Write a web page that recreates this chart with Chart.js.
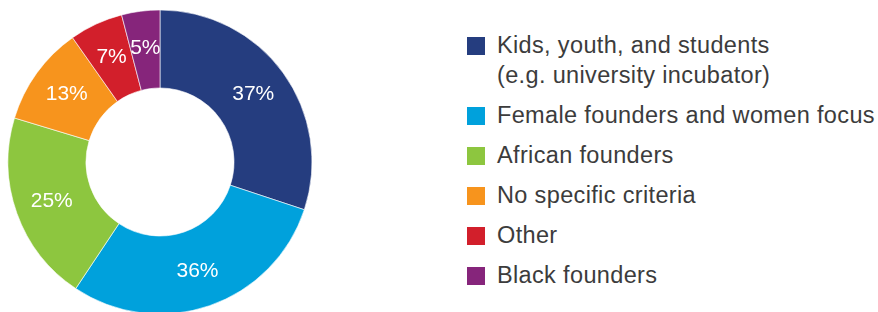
<!DOCTYPE html>
<html>
<head>
<meta charset="utf-8">
<script src="https://cdn.jsdelivr.net/npm/chart.js@4"></script>
<style>
  html, body { margin: 0; padding: 0; background: #fff; overflow: hidden; }
  body { width: 878px; height: 312px; position: relative; font-family: "Liberation Sans", Arial, sans-serif; }
  #wrap { position: absolute; left: 0; top: 0; width: 320px; height: 324px; }
  #legend { position: absolute; left: 467px; top: 30px; color: #3c3c3c; font-size: 23.5px; letter-spacing: 0.35px; white-space: nowrap; }
  .item { position: relative; padding-left: 30px; line-height: 30px; margin-bottom: 10px; }
  .box { position: absolute; left: 0; top: 7px; width: 18px; height: 18px; }
</style>
</head>
<body>
<div id="wrap"><canvas id="myChart" width="320" height="324"></canvas></div>
<div id="legend"></div>
<script>
var labels = [
    ['Kids, youth, and students', '(e.g. university incubator)'],
    ['Female founders and women focus'],
    ['African founders'],
    ['No specific criteria'],
    ['Other'],
    ['Black founders']
];
var values = [37, 36, 25, 13, 7, 5];
var colors = ['#253d7f', '#00a1dc', '#8dc63f', '#f7941d', '#d21f2b', '#86257b'];

// legend on the right
var legend = document.getElementById('legend');
labels.forEach(function (lines, i) {
    var item = document.createElement('div');
    item.className = 'item';
    var box = document.createElement('span');
    box.className = 'box';
    box.style.background = colors[i];
    item.appendChild(box);
    lines.forEach(function (t, j) {
        if (j > 0) item.appendChild(document.createElement('br'));
        item.appendChild(document.createTextNode(t));
    });
    legend.appendChild(item);
});

// percentage labels inside the slices
var sliceLabels = {
    id: 'sliceLabels',
    afterDatasetsDraw: function (chart) {
        var c = chart.ctx;
        var meta = chart.getDatasetMeta(0);
        c.save();
        c.fillStyle = '#ffffff';
        c.font = '21px "Liberation Sans", Arial, sans-serif';
        c.textAlign = 'center';
        c.textBaseline = 'middle';
        meta.data.forEach(function (arc, i) {
            var p = arc.getProps(['x', 'y', 'startAngle', 'endAngle', 'innerRadius', 'outerRadius'], true);
            var a = (p.startAngle + p.endAngle) / 2;
            var r = (p.innerRadius + p.outerRadius) / 2 + 2;
            c.fillText(values[i] + '%', p.x + Math.cos(a) * r, p.y + Math.sin(a) * r);
        });
        c.restore();
    }
};

var ctx = document.getElementById('myChart').getContext('2d');
var chart = new Chart(ctx, {
    type: 'doughnut',
    data: {
        labels: labels,
        datasets: [{
            data: values,
            backgroundColor: colors,
            borderColor: '#ffffff',
            borderWidth: 0.6
        }]
    },
    options: {
        responsive: false,
        animation: false,
        radius: 152,
        cutout: '48.7%',
        plugins: {
            legend: { display: false },
            tooltip: { enabled: false }
        }
    },
    plugins: [sliceLabels]
});
</script>
</body>
</html>
